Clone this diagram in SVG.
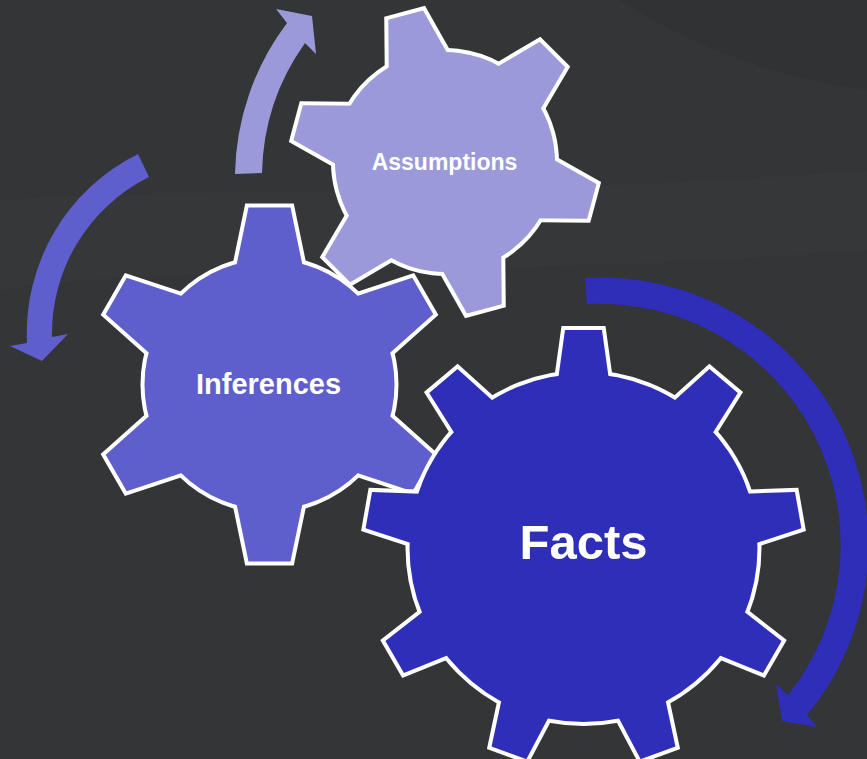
<svg xmlns="http://www.w3.org/2000/svg" xmlns:xlink="http://www.w3.org/1999/xlink" width="867" height="759" viewBox="0 0 867 759">
  <style>
    .edge { fill: #ffffff; stroke: #ffffff; stroke-width: 8; stroke-linejoin: miter; stroke-miterlimit: 10; }
    .fa { fill: #9b99da; }
    .fi { fill: #5e5ecd; }
    .ff { fill: #2e2eb8; }
    .label { font-family: "Liberation Sans", Arial, sans-serif; font-weight: bold; fill: #ffffff; text-anchor: middle; }
  </style>
  <defs>
    <g id="gearA">
      <circle r="110"/>
      <polygon id="toothA" points="-18,-152 18,-152 34,-90 -34,-90"/>
      <use xlink:href="#toothA" transform="rotate(60)"/>
      <use xlink:href="#toothA" transform="rotate(120)"/>
      <use xlink:href="#toothA" transform="rotate(180)"/>
      <use xlink:href="#toothA" transform="rotate(240)"/>
      <use xlink:href="#toothA" transform="rotate(300)"/>
    </g>
    <g id="gearI">
      <circle r="125"/>
      <polygon id="toothI" points="-21,-177 21,-177 37,-100 -37,-100"/>
      <use xlink:href="#toothI" transform="rotate(60)"/>
      <use xlink:href="#toothI" transform="rotate(120)"/>
      <use xlink:href="#toothI" transform="rotate(180)"/>
      <use xlink:href="#toothI" transform="rotate(240)"/>
      <use xlink:href="#toothI" transform="rotate(300)"/>
    </g>
    <g id="gearF">
      <circle r="174"/>
      <polygon id="toothF" points="-18.5,-218 18.5,-218 28,-150 -28,-150"/>
      <use xlink:href="#toothF" transform="rotate(40)"/>
      <use xlink:href="#toothF" transform="rotate(80)"/>
      <use xlink:href="#toothF" transform="rotate(120)"/>
      <use xlink:href="#toothF" transform="rotate(160)"/>
      <use xlink:href="#toothF" transform="rotate(200)"/>
      <use xlink:href="#toothF" transform="rotate(240)"/>
      <use xlink:href="#toothF" transform="rotate(280)"/>
      <use xlink:href="#toothF" transform="rotate(320)"/>
    </g>
  </defs>

  <g id="background">
    <rect width="867" height="759" fill="#343536"/>
    <path d="M0,200 C200,185 500,200 867,170 L867,250 C500,280 200,260 0,290 Z" fill="#3c3d3e" opacity="0.35"/>
    <path d="M620,0 L867,0 L867,90 C780,80 690,45 620,0 Z" fill="#2e2f30" opacity="0.35"/>
  </g>

  <g id="connectors">
    <path id="arrow-assumptions" fill="#9b99da" d="M235,174 A258,258 0 0 1 287,23 L276,9 L312,16 L316,54 L305,43 A232,232 0 0 0 262,173 Z"/>
    <path id="arrow-inferences" fill="#5e5ecd" d="M138,154 A200,200 0 0 0 27,343 L10,346 L42,361 L68,334 L52,337 A175,175 0 0 1 149,177 Z"/>
    <path id="arrow-facts" fill="#2e2eb8" d="M585,278 A267,267 0 0 1 807,715 L817,727 L782,721 L776,684 L788,695 A241,241 0 0 0 587,304 Z"/>
  </g>

  <g id="node-assumptions">
    <use xlink:href="#gearA" class="edge" transform="translate(445,162) rotate(-15)"/>
    <use xlink:href="#gearA" class="fa" transform="translate(445,162) rotate(-15)"/>
    <text class="label" x="444.5" y="170" font-size="23">Assumptions</text>
  </g>

  <g id="node-inferences">
    <use xlink:href="#gearI" class="edge" transform="translate(269.5,384.5)"/>
    <use xlink:href="#gearI" class="fi" transform="translate(269.5,384.5)"/>
    <text class="label" x="268.5" y="394" font-size="29">Inferences</text>
  </g>

  <g id="node-facts">
    <use xlink:href="#gearF" class="edge" transform="translate(583.5,548)"/>
    <use xlink:href="#gearF" class="ff" transform="translate(583.5,548)"/>
    <text class="label" x="583.5" y="559" font-size="49">Facts</text>
  </g>
</svg>
